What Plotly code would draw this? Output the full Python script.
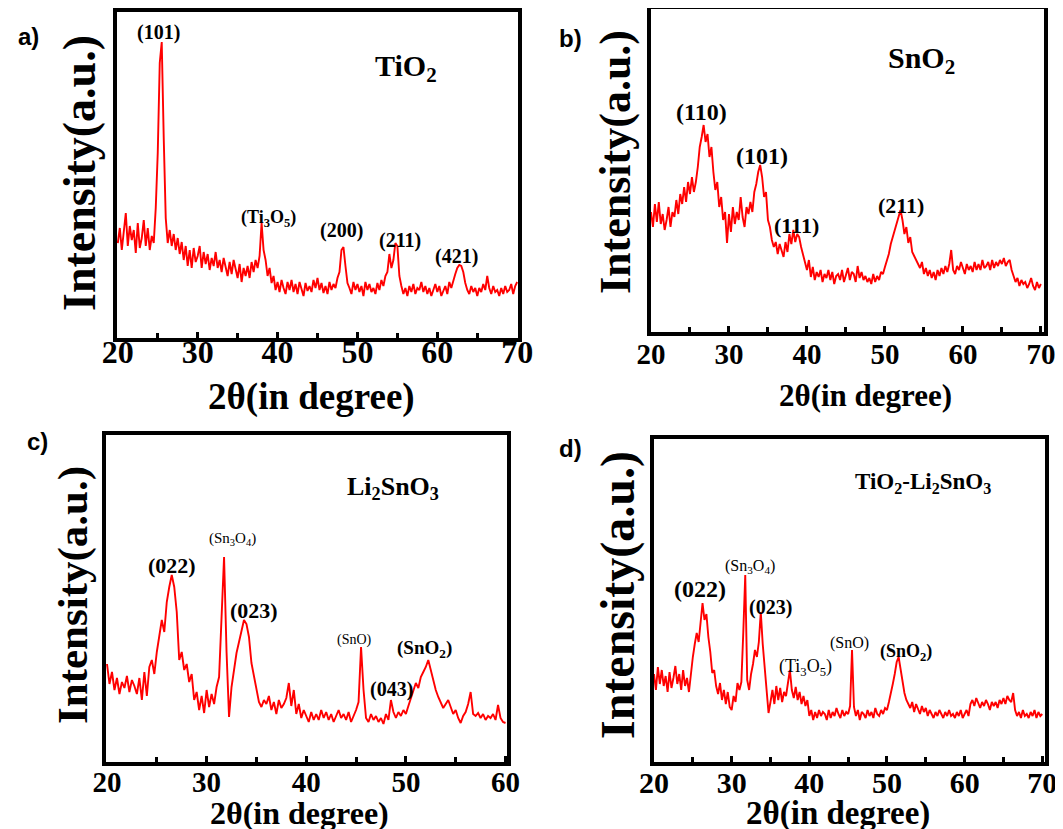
import numpy as np
import plotly.graph_objects as go

W, H = 1063, 829
OFF = 8  # page offset of the figure (default body margin) compensated in pixel helpers

# ---------------- data (2theta grid start/step, intensities) -------------
step = 0.25
start = 20.0

tio2_intensity = [
    95, 110, 88, 105,   # 20
    125, 92, 112, 98,   # 21
    108, 85, 115, 90,   # 22
    100, 118, 92, 110,  # 23
    88, 102, 95, 130,   # 24
    185, 275, 296, 200, # 25
    120, 95, 108, 92,   # 26
    104, 88, 100, 84,   # 27
    96, 78, 92, 72,     # 28
    88, 70, 90, 76,     # 29
    82, 92, 70, 86,     # 30
    74, 84, 68, 80,     # 31
    72, 86, 70, 78,     # 32
    66, 80, 72, 62,     # 33
    76, 64, 78, 68,     # 34
    60, 74, 56, 70,     # 35
    62, 72, 60, 76,     # 36
    66, 78, 70, 82,     # 37
    115, 88, 78, 62,    # 38
    70, 55, 62, 48,     # 39
    56, 46, 58, 50,     # 40
    44, 56, 48, 58,     # 41
    46, 54, 44, 56,     # 42
    50, 42, 55, 47,     # 43
    52, 46, 58, 50,     # 44
    60, 48, 55, 45,     # 45
    52, 44, 56, 48,     # 46
    54, 50, 60, 66,     # 47
    88, 91, 72, 55,     # 48
    50, 44, 56, 48,     # 49
    54, 46, 52, 42,     # 50
    56, 48, 54, 46,     # 51
    50, 44, 55, 48,     # 52
    58, 52, 62, 66,     # 53
    84, 70, 78, 95,     # 54
    92, 62, 52, 44,     # 55
    50, 42, 52, 46,     # 56
    54, 44, 50, 48,     # 57
    56, 46, 52, 44,     # 58
    50, 42, 48, 54,     # 59
    46, 52, 42, 48,     # 60
    52, 44, 56, 50,     # 61
    58, 64, 70, 73,     # 62
    72, 66, 55, 48,     # 63
    44, 52, 46, 50,     # 64
    42, 50, 46, 54,     # 65
    48, 62, 50, 44,     # 66
    52, 46, 48, 42,     # 67
    50, 44, 52, 46,     # 68
    48, 54, 44, 52,     # 69
    56,                 # 70
]

sno2_intensity = [
    120, 105, 128, 110,  # 20
    130, 108, 118, 102,  # 21
    112, 125, 105, 120,  # 22
    115, 132, 118, 138,  # 23
    128, 145, 130, 150,  # 24
    138, 155, 140, 150,  # 25
    165, 185, 195, 207,  # 26
    190, 198, 175, 185,  # 27
    160, 142, 150, 125,  # 28
    135, 112, 120, 89,   # 29
    118, 100, 125, 108,  # 30
    120, 112, 135, 115,  # 31
    105, 125, 118, 130,  # 32
    120, 140, 148, 160,  # 33
    167, 155, 135, 140,  # 34
    112, 105, 92, 85,    # 35
    90, 78, 88, 82,      # 36
    75, 90, 80, 98,      # 37
    88, 102, 90, 98,     # 38
    95, 85, 78, 70,      # 39
    62, 72, 55, 65,      # 40
    52, 60, 55, 62,      # 41
    50, 58, 54, 62,      # 42
    52, 60, 48, 56,      # 43
    58, 52, 62, 50,      # 44
    56, 64, 52, 60,      # 45
    58, 50, 66, 54,      # 46
    60, 52, 56, 50,      # 47
    54, 48, 58, 50,      # 48
    56, 52, 60, 58,      # 49
    65, 72, 78, 88,      # 50
    95, 102, 110, 115,   # 51
    122, 112, 98, 105,   # 52
    89, 95, 80, 76,      # 53
    72, 69, 64, 70,      # 54
    58, 64, 56, 62,      # 55
    54, 60, 52, 62,      # 56
    56, 64, 58, 66,      # 57
    60, 68, 82, 62,      # 58
    58, 66, 62, 70,      # 59
    64, 58, 68, 62,      # 60
    66, 60, 70, 62,      # 61
    68, 62, 72, 64,      # 62
    66, 70, 62, 72,      # 63
    64, 70, 66, 72,      # 64
    68, 74, 66, 70,      # 65
    72, 62, 56, 50,      # 66
    54, 46, 52, 48,      # 67
    50, 44, 48, 54,      # 68
    46, 42, 50, 44,      # 69
    48,                  # 70
]

li2sno3_intensity = [
    98, 78, 90, 72,      # 20
    84, 68, 80, 74,      # 21
    86, 70, 82, 76,      # 22
    68, 84, 62, 90,      # 23
    66, 95, 102, 88,     # 24
    110, 125, 142, 130,  # 25
    160, 175, 187, 175,  # 26
    150, 102, 110, 92,   # 27
    98, 80, 88, 62,      # 28
    70, 52, 66, 49,      # 29
    72, 55, 68, 58,      # 30
    75, 85, 150, 205,    # 31
    110, 45, 75, 95,     # 32
    109, 120, 130, 142,  # 33
    138, 125, 99, 85,    # 34
    70, 60, 55, 62,      # 35
    58, 66, 52, 60,      # 36
    48, 62, 54, 58,      # 37
    64, 79, 56, 72,      # 38
    48, 58, 44, 52,      # 39
    46, 40, 50, 42,      # 40
    48, 42, 52, 44,      # 41
    50, 42, 48, 40,      # 42
    46, 52, 44, 48,      # 43
    42, 50, 40, 46,      # 44
    52, 60, 115, 72,     # 45
    44, 40, 48, 42,      # 46
    46, 40, 44, 38,      # 47
    48, 42, 62, 50,      # 48
    44, 50, 46, 52,      # 49
    48, 56, 64, 72,      # 50
    79, 74, 85, 90,      # 51
    95, 102, 92, 80,     # 52
    72, 65, 60, 54,      # 53
    58, 62, 55, 48,      # 54
    52, 44, 39, 46,      # 55
    50, 58, 70, 48,      # 56
    46, 49, 44, 48,      # 57
    42, 46, 44, 48,      # 58
    42, 57, 44, 40,      # 59
    39,                  # 60
]

composite_intensity = [
    88, 72, 95, 78,      # 20
    92, 76, 86, 70,      # 21
    90, 74, 84, 96,      # 22
    78, 88, 72, 92,      # 23
    76, 84, 70, 90,      # 24
    105, 118, 129, 120,  # 25
    138, 159, 142, 148,  # 26
    125, 110, 89, 92,    # 27
    76, 68, 79, 62,      # 28
    72, 58, 70, 55,      # 29
    52, 66, 60, 79,      # 30
    72, 80, 130, 187,    # 31
    82, 72, 88, 98,      # 32
    112, 105, 120, 150,  # 33
    118, 95, 78, 49,     # 34
    60, 72, 58, 76,      # 35
    62, 74, 60, 70,      # 36
    66, 78, 92, 72,      # 37
    64, 75, 62, 70,      # 38
    58, 66, 56, 62,      # 39
    46, 52, 42, 50,      # 40
    44, 52, 46, 50,      # 41
    48, 42, 52, 44,      # 42
    50, 46, 54, 48,      # 43
    44, 52, 46, 50,      # 44
    48, 56, 112, 55,     # 45
    46, 52, 42, 50,      # 46
    48, 44, 52, 46,      # 47
    50, 44, 54, 48,      # 48
    46, 52, 48, 54,      # 49
    52, 60, 68, 78,      # 50
    88, 100, 105, 92,    # 51
    80, 69, 62, 58,      # 52
    54, 60, 50, 58,      # 53
    52, 48, 56, 50,      # 54
    54, 46, 52, 48,      # 55
    44, 50, 46, 52,      # 56
    48, 44, 50, 46,      # 57
    52, 46, 48, 44,      # 58
    50, 46, 52, 44,      # 59
    48, 52, 46, 58,      # 60
    62, 56, 64, 58,      # 61
    54, 60, 56, 62,      # 62
    58, 52, 60, 56,      # 63
    60, 54, 62, 58,      # 64
    64, 58, 66, 62,      # 65
    60, 69, 52, 46,      # 66
    50, 44, 52, 46,      # 67
    48, 44, 50, 46,      # 68
    52, 44, 50, 46,      # 69
    48,                  # 70
]

# ---------------- layout helpers (page-pixel boxes of each panel) ----------------
def xd(l, r):
    return [(l - OFF) / W, (r - OFF) / W]

def yd(t, b):
    return [1 - (b - OFF) / H, 1 - (t - OFF) / H]

panels = [
    dict(y=tio2_intensity, box=(117, 12, 518, 338), xr=[19.9, 70.1], tfs=32, sto=-17),
    dict(y=sno2_intensity, box=(651, 9, 1044, 332), xr=[20, 70.4], tfs=29, sto=-7),
    dict(y=li2sno3_intensity, box=(106, 435, 507, 762), xr=[19.9, 60.15], tfs=29, sto=-9),
    dict(y=composite_intensity, box=(654, 439, 1045, 762), xr=[20, 70.35], tfs=30, sto=-9),
]

fig = go.Figure()
layout = dict(
    width=W, height=H, margin=dict(l=0, r=0, t=0, b=0, autoexpand=False),
    paper_bgcolor="white", plot_bgcolor="white", showlegend=False,
)

SERIF = "Liberation Serif"
SANS = "Liberation Sans"

for i, p in enumerate(panels, start=1):
    l, t, r, b = p["box"]
    xs = start + step * np.arange(len(p["y"]))
    sfx = "" if i == 1 else str(i)
    fig.add_trace(go.Scatter(
        x=xs, y=p["y"], mode="lines",
        line=dict(color="#ff0000", width=1.9),
        xaxis="x" + sfx, yaxis="y" + sfx,
    ))
    layout["xaxis" + sfx] = dict(
        domain=xd(l, r), range=p["xr"], anchor="y" + sfx, automargin=False,
        tick0=20, dtick=10, ticks="inside", ticklen=6, tickwidth=3, tickcolor="black",
        minor=dict(dtick=5, tick0=20, ticks="inside", ticklen=5, tickwidth=3, tickcolor="black"),
        showgrid=False, zeroline=False, showline=True, linewidth=4, linecolor="black",
        mirror=True, ticklabelstandoff=p["sto"],
        tickfont=dict(family=SERIF, size=p["tfs"], color="black", weight="bold"),
    )
    layout["yaxis" + sfx] = dict(
        domain=yd(t, b), range=[0, b - t], anchor="x" + sfx, automargin=False,
        showticklabels=False, ticks="", showgrid=False, zeroline=False,
        showline=True, linewidth=4, linecolor="black", mirror=True,
    )

fig.update_layout(**layout)

def ann(text, px, py, size, family=SERIF, bold=True, angle=0):
    fig.add_annotation(
        text=text, x=(px - OFF) / W, y=1 - (py - OFF) / H, xref="paper", yref="paper",
        xanchor="center", yanchor="middle", showarrow=False, textangle=angle,
        font=dict(family=family, size=size, color="black", weight="bold" if bold else "normal"),
    )

# panel letters
ann("a)", 28, 37, 24, SANS)
ann("b)", 570, 38, 24, SANS)
ann("c)", 37, 441, 24, SANS)
ann("d)", 570, 448, 24, SANS)

# axis titles
ann("Intensity(a.u.)", 79, 173, 46, angle=-90)
ann("Intensity(a.u.)", 615, 162, 44, angle=-90)
ann("Intensity(a.u.)", 73, 595, 43, angle=-90)
ann("Intensity(a.u.)", 618, 595, 48, angle=-90)
ann("2θ(in degree)", 311, 397, 37)
ann("2θ(in degree)", 865, 395, 31)
ann("2θ(in degree)", 299, 813, 32)
ann("2θ(in degree)", 838, 813, 33)

# sample names
ann("TiO<sub>2</sub>", 406, 68, 30)
ann("SnO<sub>2</sub>", 921, 60, 30)
ann("Li<sub>2</sub>SnO<sub>3</sub>", 393, 488, 26)
ann("TiO<sub>2</sub>-Li<sub>2</sub>SnO<sub>3</sub>", 923, 483, 23)

# peak labels panel a
ann("(101)", 158, 32, 20)
ann("(Ti<sub>3</sub>O<sub>5</sub>)", 268, 218, 18)
ann("(200)", 341, 230, 20)
ann("(211)", 400, 240, 20)
ann("(421)", 456, 256, 20)

# panel b
ann("(110)", 701, 112, 24)
ann("(101)", 762, 156, 24)
ann("(111)", 796, 225, 22)
ann("(211)", 901, 205, 22)

# panel c
ann("(022)", 172, 565, 22)
ann("(Sn<sub>3</sub>O<sub>4</sub>)", 232, 539, 15, bold=False)
ann("(023)", 254, 610, 22)
ann("(SnO)", 354, 640, 14, bold=False)
ann("(SnO<sub>2</sub>)", 424, 649, 19)
ann("(043)", 391, 689, 20)

# panel d
ann("(022)", 700, 589, 24)
ann("(Sn<sub>3</sub>O<sub>4</sub>)", 750, 566, 16, bold=False)
ann("(023)", 770, 607, 20)
ann("(Ti<sub>3</sub>O<sub>5</sub>)", 805, 667, 18, bold=False)
ann("(SnO)", 849, 643, 16, bold=False)
ann("(SnO<sub>2</sub>)", 906, 652, 18)

fig.write_html("out.html")
